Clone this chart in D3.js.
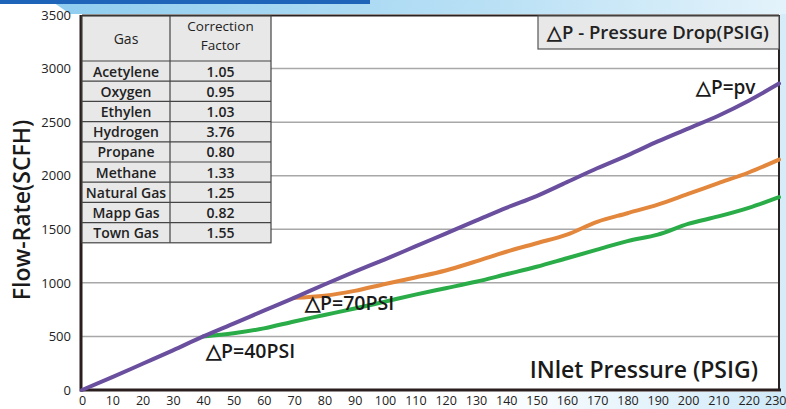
<!DOCTYPE html>
<html><head><meta charset="utf-8">
<script src="https://cdn.jsdelivr.net/npm/d3@7/dist/d3.min.js"></script>
<style>
html,body{margin:0;padding:0;background:#fff;}
svg{display:block;font-family:"Open Sans",sans-serif;}
</style></head>
<body><svg id="c" width="786" height="409"></svg>
<script>
const pressures = [0,10,20,30,40,50,60,70,80,90,100,110,120,130,140,150,160,170,180,190,200,210,220,230];
const purpleFlow = [0,120,245,370,500,620,740,860,985,1105,1220,1340,1460,1580,1700,1810,1940,2070,2190,2320,2440,2560,2700,2860];
const orangePress = [70,80,90,100,110,120,130,140,150,160,170,180,190,200,210,220,230];
const orangeFlow = [860,880,925,990,1050,1115,1200,1290,1370,1450,1570,1650,1730,1830,1930,2030,2150];
const greenPress = [40,50,60,70,80,90,100,110,120,130,140,150,160,170,180,190,200,210,220,230];
const greenFlow = [500,530,575,640,700,760,825,890,950,1010,1080,1150,1230,1310,1390,1450,1550,1620,1700,1800];
const yTicks = [0,500,1000,1500,2000,2500,3000,3500];
const xTicks = pressures;
const gases = ["Acetylene","Oxygen","Ethylen","Hydrogen","Propane","Methane","Natural Gas","Mapp Gas","Town Gas"];
const factors = ["1.05","0.95","1.03","3.76","0.80","1.33","1.25","0.82","1.55"];

const svg = d3.select("#c");
const defs = svg.append("defs");
const g1 = defs.append("linearGradient").attr("id","topg").attr("x1","0").attr("x2","1");
g1.append("stop").attr("offset","0").attr("stop-color","#8fcdef");
g1.append("stop").attr("offset","0.6").attr("stop-color","#b9e0f5");
g1.append("stop").attr("offset","1").attr("stop-color","#e4f3fb");
const g2 = defs.append("linearGradient").attr("id","brg").attr("x1","0").attr("x2","1").attr("y1","0").attr("y2","0");
g2.append("stop").attr("offset","0").attr("stop-color","#ffffff");
g2.append("stop").attr("offset","1").attr("stop-color","#cfe9f8");

// background decoration
svg.append("path").attr("d","M50,0 L786,0 L786,14 L70,14 Z").attr("fill","url(#topg)");
svg.append("rect").attr("x",0).attr("y",0).attr("width",370).attr("height",4).attr("fill","#1e64b8");
svg.append("path").attr("d","M480,409 L520,392 L786,392 L786,409 Z").attr("fill","url(#brg)");
svg.append("rect").attr("x",780).attr("y",14).attr("width",6).attr("height",395).attr("fill","#d6edf9");

const x = d3.scaleLinear().domain([0,230]).range([82,779]);
const y = d3.scaleLinear().domain([0,3500]).range([390,15]);

// plot area
svg.append("rect").attr("x",82).attr("y",15).attr("width",697).attr("height",375).attr("fill","#fff");

// grid
svg.append("g").selectAll("line").data(yTicks.filter(d=>d>0&&d<3500)).join("line")
  .attr("x1",82).attr("x2",779).attr("y1",d=>y(d)).attr("y2",d=>y(d))
  .attr("stroke","#a8a8a8").attr("stroke-width",1.5);

// axes
const yAxis = svg.append("g").attr("transform","translate(82,0)")
  .call(d3.axisLeft(y).tickValues(yTicks).tickFormat(d3.format("d")).tickSize(0).tickPadding(11));
yAxis.select(".domain").remove();
yAxis.selectAll("text").attr("font-size",13).attr("fill","#222").attr("font-family","Open Sans");
const xAxis = svg.append("g").attr("transform","translate(0,390)")
  .call(d3.axisBottom(x).tickValues(xTicks).tickSize(0).tickPadding(6));
xAxis.select(".domain").remove();
xAxis.selectAll("text").attr("font-size",12.5).attr("fill","#222").attr("font-family","Open Sans");
xAxis.selectAll(".tick").filter(d=>d===230).select("text").attr("text-anchor","end").attr("dx",7);

// frame
svg.append("line").attr("x1",82).attr("x2",779).attr("y1",15.5).attr("y2",15.5).attr("stroke","#2a2222").attr("stroke-width",2);
svg.append("line").attr("x1",779).attr("x2",779).attr("y1",15).attr("y2",390).attr("stroke","#2a2222").attr("stroke-width",2);
svg.append("line").attr("x1",80.5).attr("x2",781).attr("y1",390).attr("y2",390).attr("stroke","#2a1e1e").attr("stroke-width",3);
svg.append("line").attr("x1",81).attr("x2",81).attr("y1",15).attr("y2",391.5).attr("stroke","#2a1e1e").attr("stroke-width",3);

// lines
const line = d3.line().x(d=>x(d[0])).y(d=>y(d[1])).curve(d3.curveMonotoneX);
const series = [
  {p:greenPress, v:greenFlow, c:"#2aac48"},
  {p:orangePress, v:orangeFlow, c:"#e3873c"},
  {p:pressures, v:purpleFlow, c:"#6a4f9e"}
];
svg.append("g").selectAll("path").data(series).join("path")
  .attr("d",s=>line(s.p.map((p,i)=>[p,s.v[i]])))
  .attr("fill","none").attr("stroke",s=>s.c).attr("stroke-width",4).attr("stroke-linecap","round");

// table
const tx0 = 82, tx1 = 170, tx2 = 271, ty0 = 16, tyH = 61, rowH = 20.2;
const tb = svg.append("g");
tb.append("rect").attr("x",tx0).attr("y",ty0).attr("width",tx2-tx0).attr("height",tyH+rowH*9-ty0).attr("fill","#e8e8e8").attr("stroke","#444").attr("stroke-width",1.2);
tb.append("line").attr("x1",tx1).attr("x2",tx1).attr("y1",ty0).attr("y2",tyH+rowH*9).attr("stroke","#444").attr("stroke-width",1.2);
tb.selectAll("line.r").data(d3.range(0,9)).join("line").attr("class","r")
  .attr("x1",tx0).attr("x2",tx2).attr("y1",i=>tyH+i*rowH).attr("y2",i=>tyH+i*rowH).attr("stroke","#444").attr("stroke-width",1.2);
const tf = {"font-size":14,"font-weight":600,"fill":"#222","text-anchor":"middle","font-family":"Open Sans"};
function applyF(sel,o){for(const k in o) sel.attr(k,o[k]); return sel;}
applyF(tb.append("text").attr("x",(tx0+tx1)/2).attr("y",44).text("Gas"),tf).attr("font-weight",500);
applyF(tb.append("text").attr("x",(tx1+tx2)/2).attr("y",31).text("Correction"),tf).attr("font-weight",500).attr("font-size",13.5);
applyF(tb.append("text").attr("x",(tx1+tx2)/2).attr("y",49.5).text("Factor"),tf).attr("font-weight",500).attr("font-size",13.5);
gases.forEach((gname,i)=>{
  applyF(tb.append("text").attr("x",(tx0+tx1)/2).attr("y",tyH+i*rowH+15.5).text(gname),tf);
  applyF(tb.append("text").attr("x",(tx1+tx2)/2).attr("y",tyH+i*rowH+15.5).text(factors[i]),tf);
});

// legend box
svg.append("rect").attr("x",538).attr("y",16).attr("width",241).attr("height",33).attr("fill","#e8e8e8").attr("stroke","#555").attr("stroke-width",1.2);
svg.append("text").attr("x",658).attr("y",39).attr("text-anchor","middle").attr("font-size",18.5).attr("font-weight",600).attr("fill","#222").text("△P - Pressure Drop(PSIG)");

// annotations
const ann = [
  {t:"△P=pv", x:696, y:94, s:19},
  {t:"△P=70PSI", x:305, y:310, s:19.5},
  {t:"△P=40PSI", x:206, y:358, s:19.5}
];
svg.append("g").selectAll("text").data(ann).join("text")
  .attr("x",d=>d.x).attr("y",d=>d.y).attr("font-size",d=>d.s).attr("font-weight",600).attr("fill","#1a1a1a").text(d=>d.t);

svg.append("text").attr("x",758).attr("y",378).attr("text-anchor","end").attr("font-size",23).attr("font-weight",600).attr("fill","#1a1a1a").text("INlet Pressure (PSIG)");
svg.append("text").attr("transform","translate(30,210) rotate(-90)").attr("text-anchor","middle").attr("font-size",23).attr("font-weight",600).attr("fill","#1a1a1a").text("Flow-Rate(SCFH)");
</script></body></html>
